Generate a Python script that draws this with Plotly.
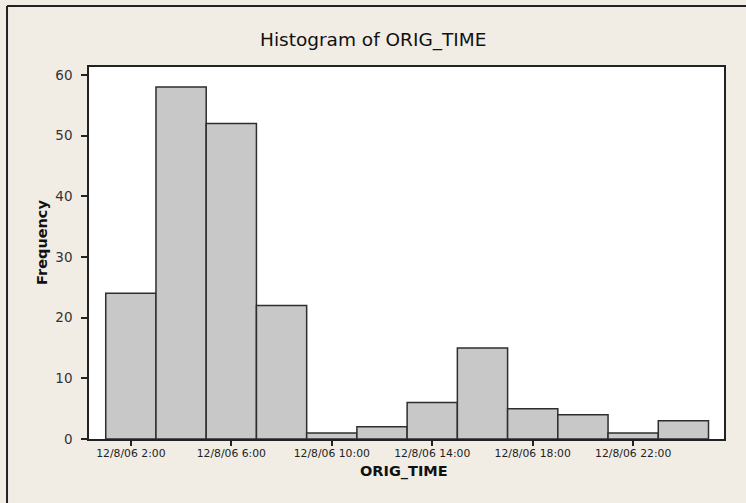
import plotly.graph_objects as go

# Histogram bins: centre time of each 2-hour class and its count
bin_centers = [
    "2006-12-08 02:00", "2006-12-08 04:00", "2006-12-08 06:00", "2006-12-08 08:00",
    "2006-12-08 10:00", "2006-12-08 12:00", "2006-12-08 14:00", "2006-12-08 16:00",
    "2006-12-08 18:00", "2006-12-08 20:00", "2006-12-08 22:00", "2006-12-09 00:00",
]
frequency = [24, 58, 52, 22, 1, 2, 6, 15, 5, 4, 1, 3]

tick_vals = ["2006-12-08 02:00", "2006-12-08 06:00", "2006-12-08 10:00",
             "2006-12-08 14:00", "2006-12-08 18:00", "2006-12-08 22:00"]
tick_text = ["12/8/06 2:00", "12/8/06 6:00", "12/8/06 10:00",
             "12/8/06 14:00", "12/8/06 18:00", "12/8/06 22:00"]
y_ticks = [0, 10, 20, 30, 40, 50, 60]

BIN_MS = 2 * 3600 * 1000
BG = "#f1ede5"
FONT = "DejaVu Sans"

fig = go.Figure(go.Bar(
    x=bin_centers,
    y=frequency,
    width=[BIN_MS] * len(frequency),
    marker=dict(color="#c8c8c8", line=dict(color="#2e2e2e", width=1.5)),
))

fig.update_layout(
    width=746, height=503,
    margin=dict(l=89, r=22, t=67, b=64),
    paper_bgcolor=BG,
    plot_bgcolor="white",
    showlegend=False,
    font=dict(family=FONT, color="#111"),
    xaxis=dict(
        type="date",
        range=["2006-12-08 00:20", "2006-12-09 01:37"],
        tickvals=tick_vals, ticktext=tick_text,
        ticks="outside", ticklen=5, tickcolor="#222", tickwidth=1.5,
        ticklabelstandoff=-2,
        tickfont=dict(size=10.8, family=FONT, color="#222"),
        showgrid=False, zeroline=False,
        showline=True, linecolor="#222", linewidth=1.5, mirror=True,
    ),
    yaxis=dict(
        range=[0, 61.3],
        tickvals=y_ticks,
        ticks="outside", ticklen=6, tickcolor="#222", tickwidth=1.5,
        ticklabelstandoff=6,
        tickfont=dict(size=13.5, family=FONT, color="#333"),
        showgrid=False, zeroline=False,
        showline=True, linecolor="#222", linewidth=1.5, mirror=True,
    ),
    annotations=[
        dict(text="Histogram of ORIG_TIME", xref="paper", yref="paper",
             x=0.447, y=1.0726, showarrow=False, xanchor="center", yanchor="middle",
             font=dict(size=18.5, family=FONT, color="#111")),
        dict(text="<b>ORIG_TIME</b>", xref="paper", yref="paper",
             x=0.496, y=-0.088, showarrow=False, xanchor="center", yanchor="middle",
             font=dict(size=14.5, family=FONT, color="#111")),
        dict(text="<b>Frequency</b>", xref="paper", yref="paper",
             x=-0.074, y=0.527, showarrow=False, xanchor="center", yanchor="middle",
             textangle=-90, font=dict(size=14.5, family=FONT, color="#111")),
    ],
    shapes=[
        dict(type="line", xref="paper", yref="paper", x0=-0.1291, x1=-0.1291,
             y0=1.164, y1=-0.2, line=dict(color="#222", width=2)),
        dict(type="line", xref="paper", yref="paper", x0=-0.1291, x1=1.05,
             y0=1.164, y1=1.164, line=dict(color="#222", width=2)),
    ],
)

fig.write_html("out.html")
